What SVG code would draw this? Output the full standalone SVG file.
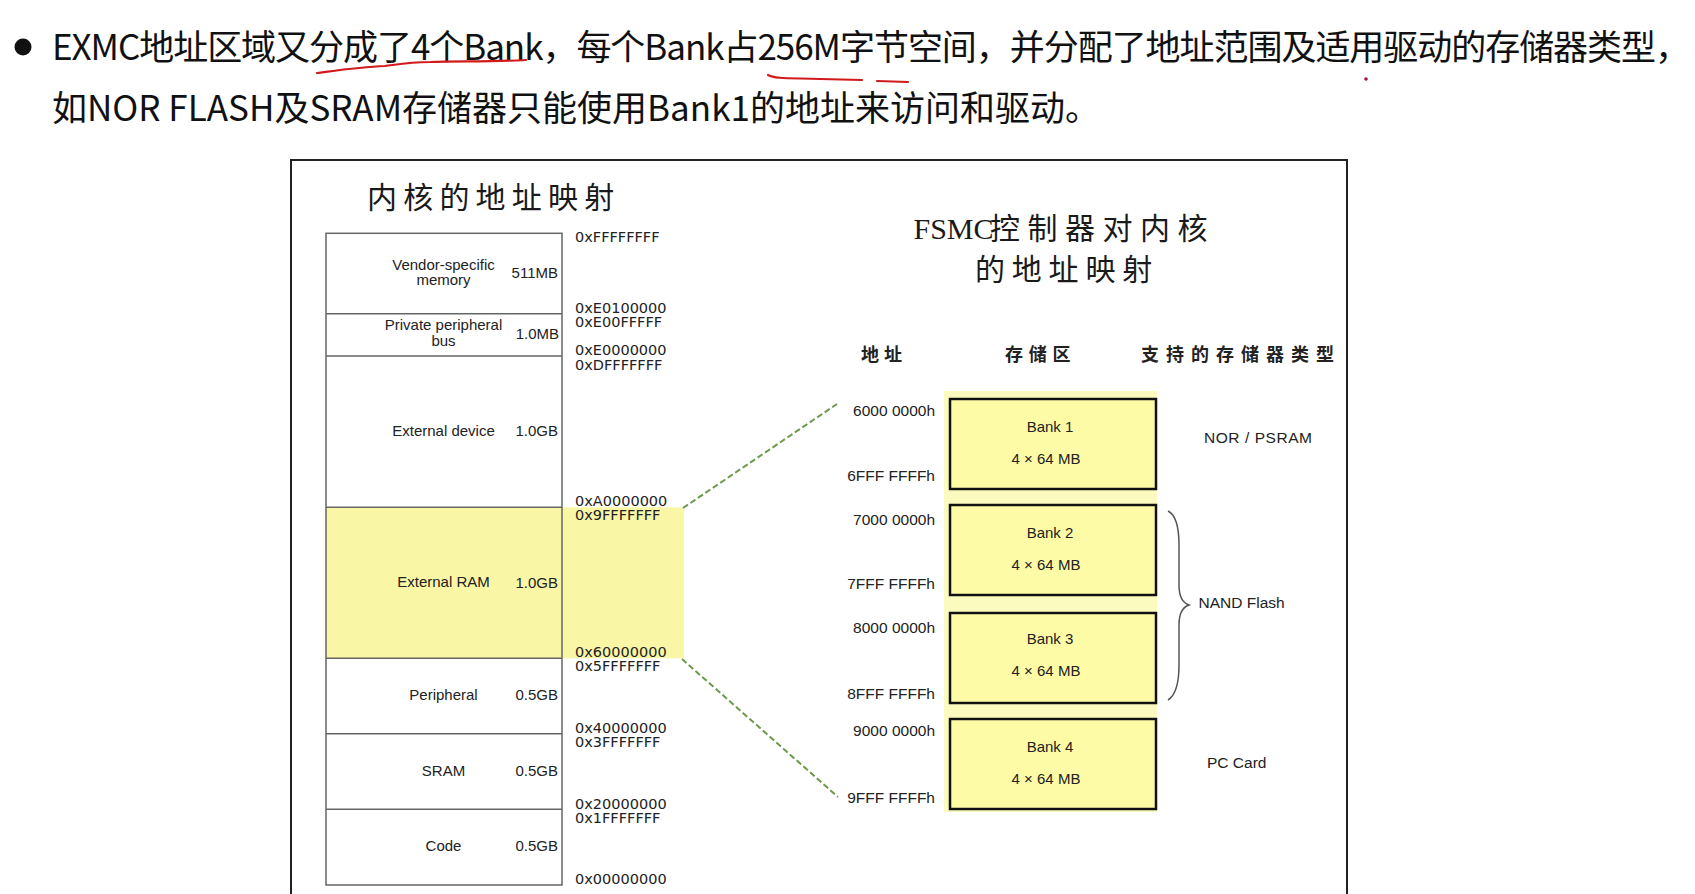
<svg xmlns="http://www.w3.org/2000/svg" width="1695" height="894" viewBox="0 0 1695 894">
<style>
.top{font-family:"Noto Sans CJK SC","Microsoft YaHei",sans-serif;font-size:35px;fill:#111}
.ttl{font-family:"Noto Sans CJK SC",sans-serif;font-size:30px;fill:#1a1a1a}
.hdr{font-family:"Noto Sans CJK SC",sans-serif;font-size:18px;font-weight:bold;fill:#222}
.addr{font-family:"DejaVu Sans",Verdana,sans-serif;font-size:14.5px;fill:#222}
.lbl{font-family:"Liberation Sans",Arial,sans-serif;font-size:15px;fill:#222}
.rl{font-family:"Liberation Sans",Arial,sans-serif;font-size:15.5px;fill:#222}
.box{fill:none;stroke:#666;stroke-width:1.5}
.div{stroke:#666;stroke-width:1.5}
.bank{fill:#fdfba6;stroke:#111;stroke-width:2.5}
.dash{fill:none;stroke:#6a9a4a;stroke-width:2;stroke-dasharray:6 3}
.red{fill:none;stroke:#d21a1a;stroke-width:2.2;stroke-linecap:round}
</style>
<rect width="1695" height="894" fill="#fff"/>

<g id="heading">
<circle cx="23" cy="47" r="8.5" fill="#111"/>
<text class="top" x="52" y="60" textLength="1638" lengthAdjust="spacing">EXMC地址区域又分成了4个Bank，每个Bank占256M字节空间，并分配了地址范围及适用驱动的存储器类型，</text>
<text class="top" x="52" y="121" textLength="1048" lengthAdjust="spacing">如NOR FLASH及SRAM存储器只能使用Bank1的地址来访问和驱动。</text>
<path class="red" d="M317,73 C340,70 360,67 385,66 C400,64 410,62 430,62 C460,61 490,62 526,60"/>
<path class="red" d="M768,75 C775,79 790,78 820,79 L862,80 M877,81 L908,82"/>
<circle cx="1366" cy="79" r="1.8" fill="#a0183a"/>
</g>

<g id="panel">
<rect x="291" y="160" width="1056" height="745" fill="#fff" stroke="#222" stroke-width="2"/>
</g>

<g id="core-map">
<text class="ttl" x="367" y="208" font-size="31" letter-spacing="6.2">内核的地址映射</text>
<rect x="326" y="507.3" width="358" height="151" fill="#f9f6a6"/>
<rect class="box" x="326" y="233.3" width="236" height="651.7"/>
<g id="seg-vendor">
<text class="lbl" x="443.5" y="269.5" text-anchor="middle">Vendor-specific</text>
<text class="lbl" x="443.5" y="284.5" text-anchor="middle">memory</text>
<text class="lbl" x="558" y="277.5" text-anchor="end">511MB</text>
</g>
<line class="div" x1="326" y1="313.7" x2="562" y2="313.7"/>
<g id="seg-ppb">
<text class="lbl" x="443.5" y="330" text-anchor="middle">Private peripheral</text>
<text class="lbl" x="443.5" y="346" text-anchor="middle">bus</text>
<text class="lbl" x="559" y="338.5" text-anchor="end">1.0MB</text>
</g>
<line class="div" x1="326" y1="356" x2="562" y2="356"/>
<g id="seg-extdev">
<text class="lbl" x="443.5" y="436" text-anchor="middle">External device</text>
<text class="lbl" x="558" y="436" text-anchor="end">1.0GB</text>
</g>
<line class="div" x1="326" y1="507.3" x2="562" y2="507.3"/>
<g id="seg-extram">
<text class="lbl" x="443.5" y="587" text-anchor="middle">External RAM</text>
<text class="lbl" x="558" y="588" text-anchor="end">1.0GB</text>
</g>
<line class="div" x1="326" y1="658.3" x2="562" y2="658.3"/>
<g id="seg-periph">
<text class="lbl" x="443.5" y="700" text-anchor="middle">Peripheral</text>
<text class="lbl" x="558" y="700" text-anchor="end">0.5GB</text>
</g>
<line class="div" x1="326" y1="733.7" x2="562" y2="733.7"/>
<g id="seg-sram">
<text class="lbl" x="443.5" y="776" text-anchor="middle">SRAM</text>
<text class="lbl" x="558" y="776" text-anchor="end">0.5GB</text>
</g>
<line class="div" x1="326" y1="809.3" x2="562" y2="809.3"/>
<g id="seg-code">
<text class="lbl" x="443.5" y="851" text-anchor="middle">Code</text>
<text class="lbl" x="558" y="851" text-anchor="end">0.5GB</text>
</g>
<g id="addresses">
<text class="addr" x="575" y="242">0xFFFFFFFF</text>
<text class="addr" x="575" y="312.5">0xE0100000</text>
<text class="addr" x="575" y="327">0xE00FFFFF</text>
<text class="addr" x="575" y="355">0xE0000000</text>
<text class="addr" x="575" y="369.5">0xDFFFFFFF</text>
<text class="addr" x="575" y="506">0xA0000000</text>
<text class="addr" x="575" y="519.5">0x9FFFFFFF</text>
<text class="addr" x="575" y="657">0x60000000</text>
<text class="addr" x="575" y="671">0x5FFFFFFF</text>
<text class="addr" x="575" y="732.5">0x40000000</text>
<text class="addr" x="575" y="747">0x3FFFFFFF</text>
<text class="addr" x="575" y="808.5">0x20000000</text>
<text class="addr" x="575" y="823">0x1FFFFFFF</text>
<text class="addr" x="575" y="883.5">0x00000000</text>
</g>
</g>

<g id="connectors">
<line class="dash" x1="683" y1="508" x2="837" y2="404"/>
<line class="dash" x1="682" y1="659" x2="838" y2="797"/>
</g>

<g id="fsmc-map">
<text class="ttl" x="913.5" y="239"><tspan font-family="Liberation Serif, serif">FSMC</tspan><tspan x="990" letter-spacing="7.5">控制器对内核</tspan></text>
<text class="ttl" x="975" y="280" letter-spacing="6.8">的地址映射</text>
<text class="hdr" x="861" y="361" letter-spacing="5">地址</text>
<text class="hdr" x="1005" y="361" letter-spacing="5.7">存储区</text>
<text class="hdr" x="1141" y="361" letter-spacing="7">支持的存储器类型</text>
<rect x="944" y="391" width="213" height="421" fill="#fcfbbf"/>
<g id="bank1">
<rect class="bank" x="950" y="399" width="206" height="90"/>
<text class="lbl" x="1050" y="432" text-anchor="middle">Bank 1</text>
<text class="lbl" x="1046" y="464" text-anchor="middle">4 × 64 MB</text>
<text class="rl" x="935" y="416" text-anchor="end">6000 0000h</text>
<text class="rl" x="935" y="481" text-anchor="end">6FFF FFFFh</text>
</g>
<g id="bank2">
<rect class="bank" x="950" y="505" width="206" height="90"/>
<text class="lbl" x="1050" y="538" text-anchor="middle">Bank 2</text>
<text class="lbl" x="1046" y="570" text-anchor="middle">4 × 64 MB</text>
<text class="rl" x="935" y="525" text-anchor="end">7000 0000h</text>
<text class="rl" x="935" y="589" text-anchor="end">7FFF FFFFh</text>
</g>
<g id="bank3">
<rect class="bank" x="950" y="613" width="206" height="90"/>
<text class="lbl" x="1050" y="644" text-anchor="middle">Bank 3</text>
<text class="lbl" x="1046" y="676" text-anchor="middle">4 × 64 MB</text>
<text class="rl" x="935" y="633" text-anchor="end">8000 0000h</text>
<text class="rl" x="935" y="699" text-anchor="end">8FFF FFFFh</text>
</g>
<g id="bank4">
<rect class="bank" x="950" y="719" width="206" height="90"/>
<text class="lbl" x="1050" y="752" text-anchor="middle">Bank 4</text>
<text class="lbl" x="1046" y="784" text-anchor="middle">4 × 64 MB</text>
<text class="rl" x="935" y="736" text-anchor="end">9000 0000h</text>
<text class="rl" x="935" y="803" text-anchor="end">9FFF FFFFh</text>
</g>
<g id="types">
<text class="rl" x="1204" y="443" textLength="108" lengthAdjust="spacing">NOR / PSRAM</text>
<path d="M1168,511 C1176,515 1179,528 1179,545 L1179,585 C1179,597 1183,603 1189,605 C1183,607 1179,613 1179,625 L1179,665 C1179,682 1176,695 1168,700" fill="none" stroke="#555" stroke-width="1.5"/>
<text class="rl" x="1198.5" y="608">NAND Flash</text>
<text class="rl" x="1207" y="768">PC Card</text>
</g>
</g>
</svg>
